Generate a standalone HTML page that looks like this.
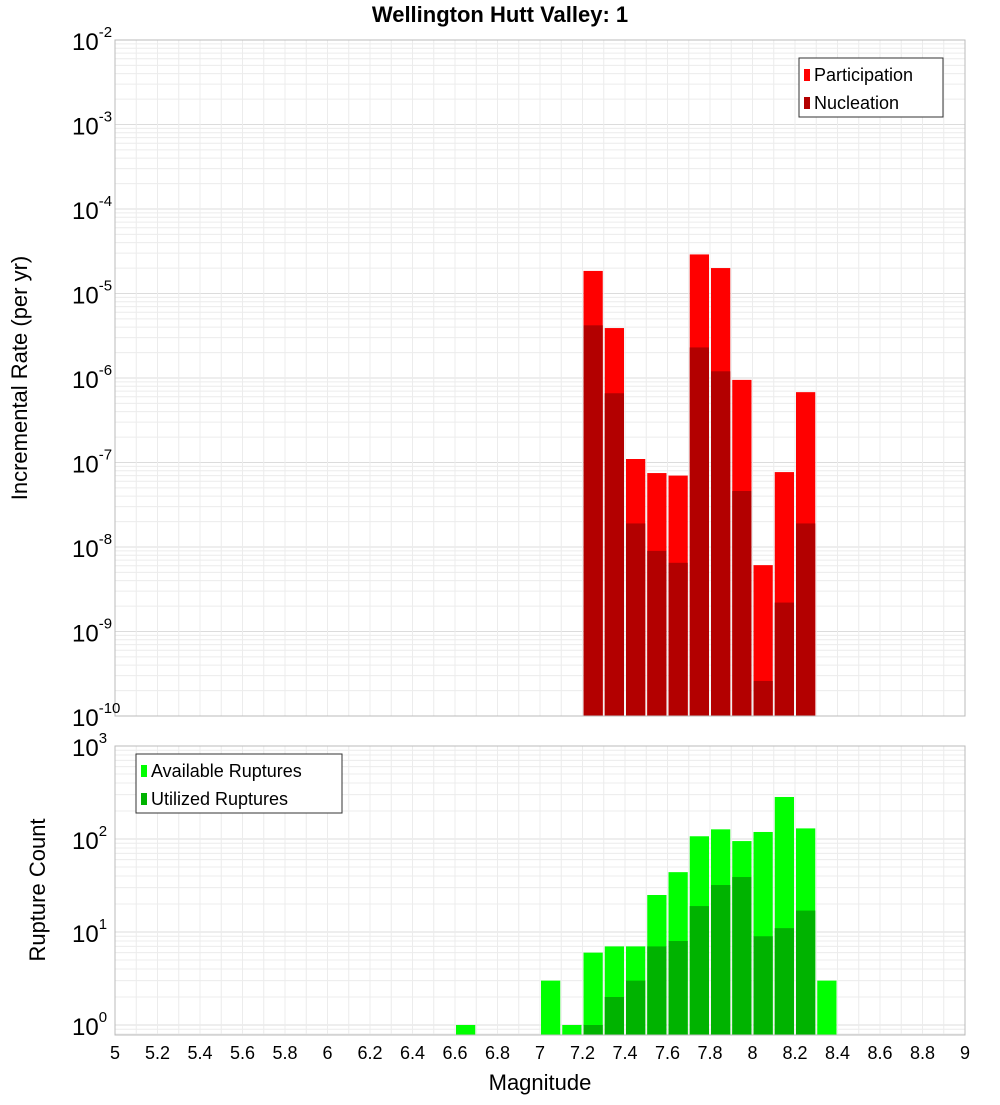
<!DOCTYPE html>
<html><head><meta charset="utf-8"><style>
body{margin:0;background:#fff;font-family:"Liberation Sans",sans-serif}
svg text{font-family:"Liberation Sans","DejaVu Sans",sans-serif}
</style></head><body>
<svg id="c" width="1000" height="1100" xmlns="http://www.w3.org/2000/svg"></svg>
<script>
const binCenters=[7.25,7.35,7.45,7.55,7.65,7.75,7.85,7.95,8.05,8.15,8.25];
const participation=[1.85e-5,3.9e-6,1.1e-7,7.5e-8,7e-8,2.9e-5,2e-5,9.5e-7,6.1e-9,7.7e-8,6.8e-7];
const nucleation=[4.2e-6,6.6e-7,1.9e-8,9e-9,6.5e-9,2.3e-6,1.2e-6,4.6e-8,2.6e-10,2.2e-9,1.9e-8];
const countCenters=[6.65,7.05,7.15,7.25,7.35,7.45,7.55,7.65,7.75,7.85,7.95,8.05,8.15,8.25,8.35];
const available=[1,3,1,6,7,7,25,44,107,127,95,119,283,130,3];
const utilCenters=[7.25,7.35,7.45,7.55,7.65,7.75,7.85,7.95,8.05,8.15,8.25];
const utilized=[1,2,3,7,8,19,32,39,9,11,17];
const xTicks=[5,5.2,5.4,5.6,5.8,6,6.2,6.4,6.6,6.8,7,7.2,7.4,7.6,7.8,8,8.2,8.4,8.6,8.8,9];
const topExps=[-10,-9,-8,-7,-6,-5,-4,-3,-2];
const botExps=[0,1,2,3];

const NS="http://www.w3.org/2000/svg",svg=document.getElementById('c');
function mk(t,a,p){const e=document.createElementNS(NS,t);for(const k in a)e.setAttribute(k,a[k]);(p||svg).appendChild(e);return e;}
const L=115,R=965;
const x=v=>L+(v-5)/4*(R-L);
const T1=40,B1=716,yTop=v=>B1-(Math.log10(v)+10)/8*(B1-T1);
const T2=746,B2=1035,dec2=93,yBot=v=>1025-Math.log10(v)*dec2;

function grid(top,bot,yf,lo,hi){
 for(let e=lo;e<hi;e++)for(let m=1;m<10;m++){const y=yf(m*Math.pow(10,e));if(y<top||y>bot)continue;
  const l=mk('line',{x1:L,x2:R,y1:y,y2:y,stroke:m==1?'#dcdcdc':'#ececec','stroke-width':1});
  }
 for(let v=5;v<=9.001;v+=0.1){const l=mk('line',{x1:x(v),x2:x(v),y1:top,y2:bot,stroke:'#ececec'});
  }
}
grid(T1,B1,yTop,-10,-2);
grid(T2,B2,yBot,-1,3);

function bars(centers,vals,yf,base,color,name){
 centers.forEach((c,i)=>{const y=yf(vals[i]);const r=mk('rect',{x:x(c-0.05)+1,y:y,width:x(c+0.05)-x(c-0.05)-2,height:base-y,fill:color});
  });
}
bars(binCenters,participation,yTop,B1,'#ff0000','participation');
bars(binCenters,nucleation,yTop,B1,'#b30000','nucleation');
bars(countCenters,available,yBot,B2,'#00ff00','available');
bars(utilCenters,utilized,yBot,B2,'#00b300','utilized');

let f=mk('rect',{x:L,y:T1,width:R-L,height:B1-T1,fill:'none',stroke:'#bbb'});
f=mk('rect',{x:L,y:T2,width:R-L,height:B2-T2,fill:'none',stroke:'#bbb'});

function ylab(exps,yf){exps.forEach(e=>{const y=yf(Math.pow(10,e));const t=mk('text',{x:72,y:y+10,'font-size':24,fill:'#000'});
 
 t.textContent='10';const s=mk('tspan',{dy:-13,'font-size':15},t);s.textContent=e;});}
ylab(topExps,yTop);ylab(botExps,yBot);

xTicks.forEach(v=>{const t=mk('text',{x:x(v),y:1059,'font-size':18,'text-anchor':'middle'});
 
 t.textContent=String(Math.round(v*10)/10);});

let t=mk('text',{x:500,y:22,'font-size':22,'font-weight':'bold','text-anchor':'middle'});t.textContent='Wellington Hutt Valley: 1';
t=mk('text',{x:540,y:1090,'font-size':22,'text-anchor':'middle'});t.textContent='Magnitude';
t=mk('text',{x:27,y:378,'font-size':22,'text-anchor':'middle',transform:'rotate(-90 27 378)'});t.textContent='Incremental Rate (per yr)';
t=mk('text',{x:45,y:890,'font-size':22,'text-anchor':'middle',transform:'rotate(-90 45 890)'});t.textContent='Rupture Count';

function legend(x0,y0,w,items,name){const g=mk('g',{});
 mk('rect',{x:x0,y:y0,width:w,height:59,fill:'#fff',stroke:'#333'},g);
 items.forEach((it,i)=>{mk('rect',{x:x0+5,y:y0+11+i*28,width:6,height:12,fill:it[1]},g);
  const tt=mk('text',{x:x0+15,y:y0+23+i*28,'font-size':18},g);tt.textContent=it[0];});}
legend(799,58,144,[['Participation','#ff0000'],['Nucleation','#b30000']],'top-legend');
legend(136,754,206,[['Available Ruptures','#00ff00'],['Utilized Ruptures','#00b300']],'bottom-legend');
</script>
</body></html>
